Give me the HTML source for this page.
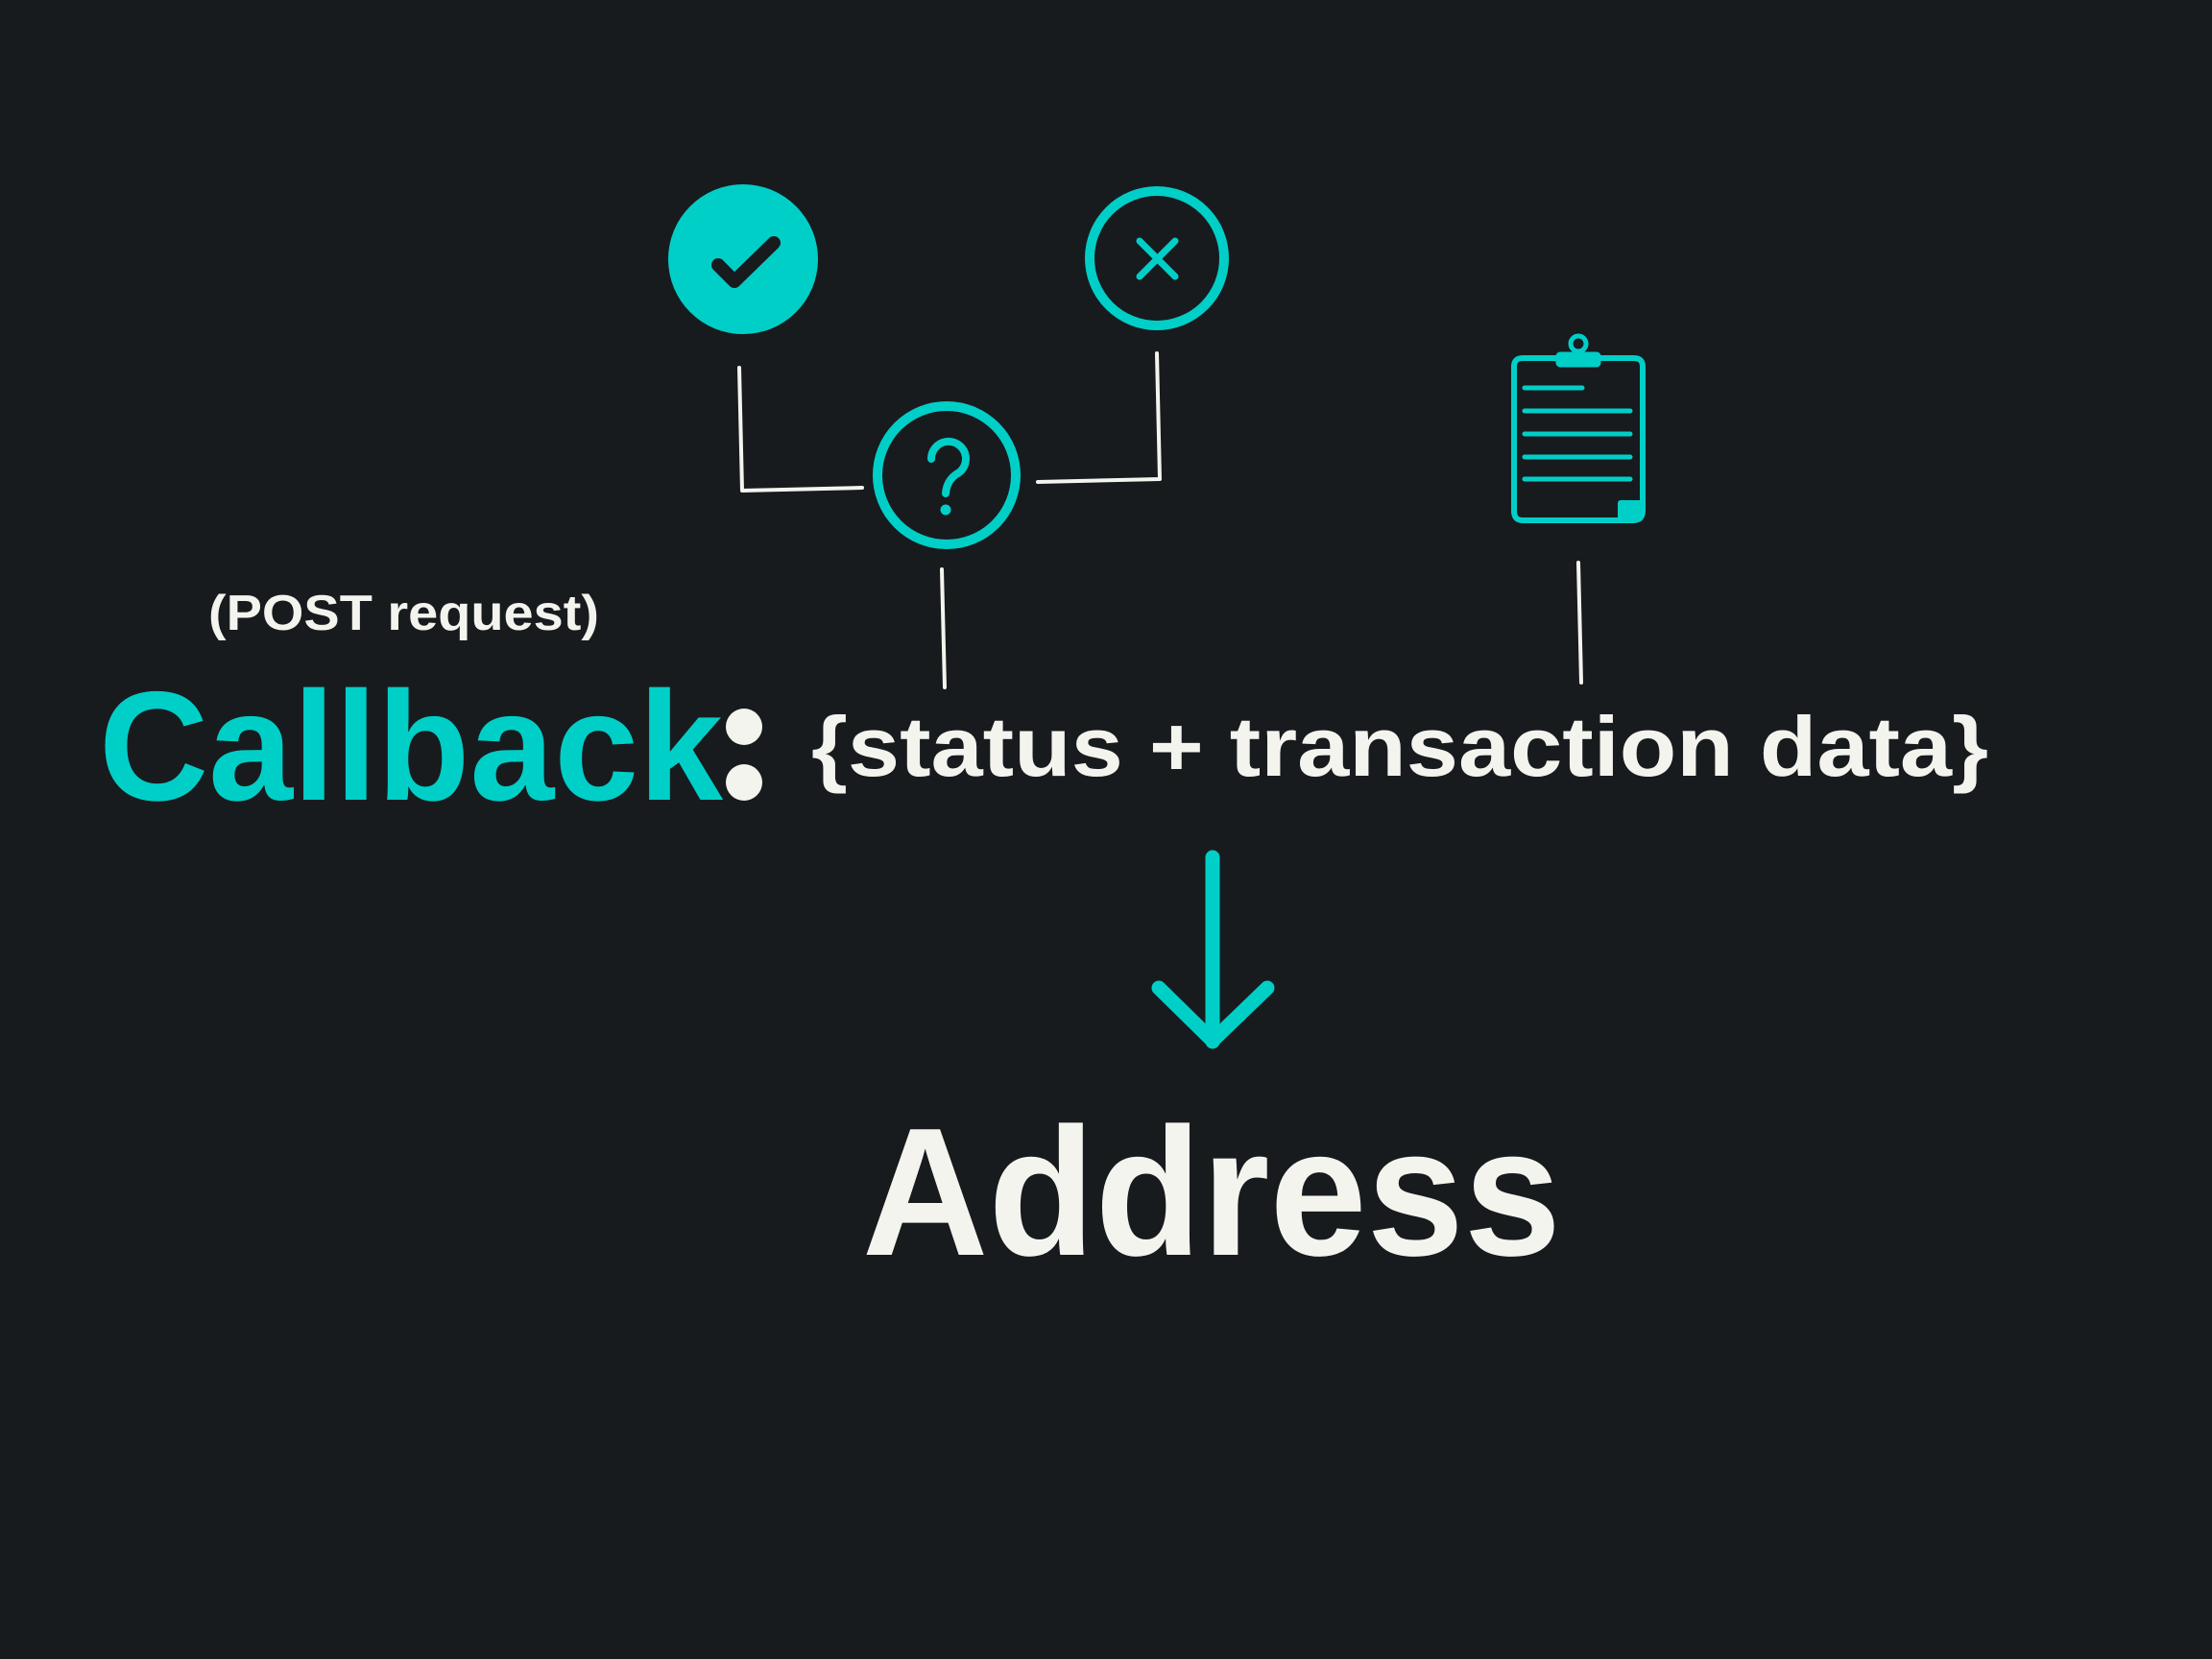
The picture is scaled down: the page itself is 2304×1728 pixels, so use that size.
<!DOCTYPE html>
<html><head><meta charset="utf-8"><style>
html,body{margin:0;padding:0;background:#181b1e;}
svg{display:block}
</style></head><body>
<svg width="2304" height="1728" viewBox="0 0 2304 1728" xmlns="http://www.w3.org/2000/svg">
<rect width="2304" height="1728" fill="#181b1e"/>
<g fill="none" stroke-linecap="round" stroke-linejoin="round">
  <circle cx="774" cy="270" r="78" fill="#00cfc8"/>
  <polyline points="748,276 765,293 806,253" stroke="#181b1e" stroke-width="14"/>
  <circle cx="1205" cy="269" r="70" stroke="#00cfc8" stroke-width="10"/>
  <line x1="1187" y1="251" x2="1224" y2="288" stroke="#00cfc8" stroke-width="7"/>
  <line x1="1224" y1="251" x2="1187" y2="288" stroke="#00cfc8" stroke-width="7"/>
  <circle cx="986" cy="495" r="72" stroke="#00cfc8" stroke-width="10"/>
  <path d="M970 478 A18 18 0 1 1 996 494 Q986 501 985 514" stroke="#00cfc8" stroke-width="8"/>
  <circle cx="985" cy="531" r="4" fill="#00cfc8" stroke="#00cfc8" stroke-width="3"/>
  <g stroke="#f4f4ef" stroke-width="4">
    <polyline points="770,383 773,511 898,508"/>
    <polyline points="1081,502 1208,499 1205,368"/>
    <line x1="981" y1="593" x2="984" y2="716"/>
    <line x1="1644" y1="586" x2="1647" y2="711"/>
  </g>
  <path d="M1586 373 H1702 Q1711 373 1711 382 V532 Q1711 542 1701 542 H1586 Q1577 542 1577 532 V382 Q1577 373 1586 373 Z" stroke="#00cfc8" stroke-width="6"/>
  <rect x="1622" y="368" width="44" height="13" rx="3" fill="#00cfc8" stroke="#00cfc8" stroke-width="3"/>
  <circle cx="1644" cy="358" r="8" stroke="#00cfc8" stroke-width="5"/>
  <path d="M1688 542 V524 H1711" stroke="#00cfc8" stroke-width="6"/>
  <rect x="1688" y="524" width="20" height="16" fill="#00cfc8"/>
  <g stroke="#00cfc8" stroke-width="5">
    <line x1="1588" y1="404" x2="1648" y2="404"/>
    <line x1="1588" y1="428" x2="1698" y2="428"/>
    <line x1="1588" y1="452" x2="1698" y2="452"/>
    <line x1="1588" y1="476" x2="1698" y2="476"/>
    <line x1="1588" y1="499" x2="1698" y2="499"/>
  </g>
  <line x1="1263" y1="893" x2="1263" y2="1085" stroke="#00cfc8" stroke-width="15"/>
  <polyline points="1207,1029 1263,1084 1320,1029" stroke="#00cfc8" stroke-width="15"/>
</g>
<circle cx="775" cy="757" r="19" fill="#f4f4ef"/>
<circle cx="775" cy="815" r="19" fill="#f4f4ef"/>
<g font-family="'Liberation Sans', sans-serif" font-weight="bold">
  <text x="217" y="656" font-size="52" fill="#f4f4ef" textLength="407" lengthAdjust="spacingAndGlyphs">(POST request)</text>
  <text x="103" y="833" font-size="162" fill="#00cfc8" textLength="650" lengthAdjust="spacingAndGlyphs">Callback</text>
  <text x="845" y="808" font-size="88" fill="#f4f4ef" textLength="1226" lengthAdjust="spacingAndGlyphs">{status + transaction data}</text>
  <text x="898" y="1307" font-size="190" fill="#f4f4ef" textLength="728" lengthAdjust="spacingAndGlyphs">Address</text>
</g>
</svg>
</body></html>
